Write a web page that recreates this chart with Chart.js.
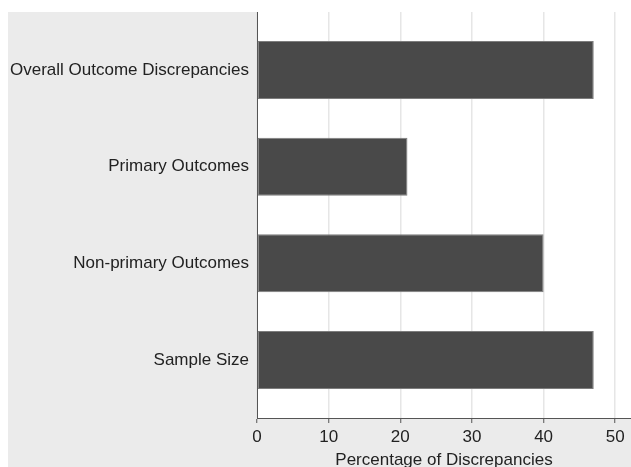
<!DOCTYPE html>
<html lang="en">
<head>
    <meta charset="UTF-8">
    <title>Percentage of Discrepancies</title>
    <script src="https://cdn.jsdelivr.net/npm/chart.js"></script>
    <style>
        html, body { margin: 0; padding: 0; background: #fff; }
        #wrap { width: 631px; height: 467px; }
    </style>
</head>
<body>

<div id="wrap"><canvas id="barChart"></canvas></div>

<script>
    // Chart data
    const categories = ['Overall Outcome Discrepancies', 'Primary Outcomes', 'Non-primary Outcomes', 'Sample Size'];
    const percentages = [47, 21, 40, 47];
    const xTicks = [0, 10, 20, 30, 40, 50];

    // Gray outer region + white plot region
    const backgroundPlugin = {
        id: 'regions',
        beforeDraw(chart) {
            const { ctx, chartArea, width, height } = chart;
            ctx.save();
            ctx.fillStyle = '#ffffff';
            ctx.fillRect(0, 0, width, height);
            ctx.fillStyle = '#ebebeb';
            ctx.fillRect(8, 12, width - 8, height - 12);
            ctx.fillStyle = '#ffffff';
            ctx.fillRect(chartArea.left, chartArea.top, chartArea.right - chartArea.left, chartArea.bottom - chartArea.top);
            ctx.restore();
        }
    };

    const font = { family: '"Liberation Sans", Arial, Helvetica, sans-serif', size: 17 };

    const ctx = document.getElementById('barChart').getContext('2d');
    const barChart = new Chart(ctx, {
        type: 'bar',
        data: {
            datasets: [{
                data: percentages.map((v, i) => ({ x: v, y: i + 1 })),
                backgroundColor: '#494949',
                borderColor: '#7d7d7d',
                borderWidth: 1,
                borderSkipped: false,
                barPercentage: 0.6,
                categoryPercentage: 1
            }]
        },
        plugins: [backgroundPlugin],
        options: {
            indexAxis: 'y',
            responsive: true,
            maintainAspectRatio: false,
            animation: false,
            layout: { padding: { top: 12, right: 0, left: 0, bottom: 0 } },
            plugins: {
                legend: { display: false },
                tooltip: { enabled: false }
            },
            scales: {
                x: {
                    type: 'linear',
                    min: 0,
                    max: 52.2,
                    afterBuildTicks: (scale) => { scale.ticks = xTicks.map(v => ({ value: v })); },
                    afterFit: (scale) => { scale.height = 49; },
                    grid: {
                        color: '#e6e6e6',
                        lineWidth: 1.5,
                        tickColor: '#555555',
                        tickLength: 5,
                        tickWidth: 1
                    },
                    border: { display: true, color: '#555555', width: 1 },
                    ticks: { color: '#222222', font: font, padding: 4, maxRotation: 0 },
                    title: {
                        display: true,
                        text: 'Percentage of Discrepancies',
                        color: '#222222',
                        font: { family: font.family, size: 17, lineHeight: 1 },
                        padding: { top: 0, bottom: -2 }
                    }
                },
                y: {
                    type: 'linear',
                    reverse: true,
                    offset: false,
                    min: 0.4,
                    max: 4.6,
                    afterBuildTicks: (scale) => { scale.ticks = categories.map((c, i) => ({ value: i + 1 })); },
                    afterFit: (scale) => {
                        scale.width = 257;
                        scale.paddingTop = 0;
                        scale.paddingBottom = 0;
                    },
                    grid: { display: false, drawTicks: false, offset: false },
                    border: { display: true, color: '#555555', width: 1 },
                    ticks: {
                        color: '#222222',
                        font: font,
                        padding: 8,
                        callback: (v) => categories[v - 1]
                    }
                }
            }
        }
    });
</script>

</body>
</html>
